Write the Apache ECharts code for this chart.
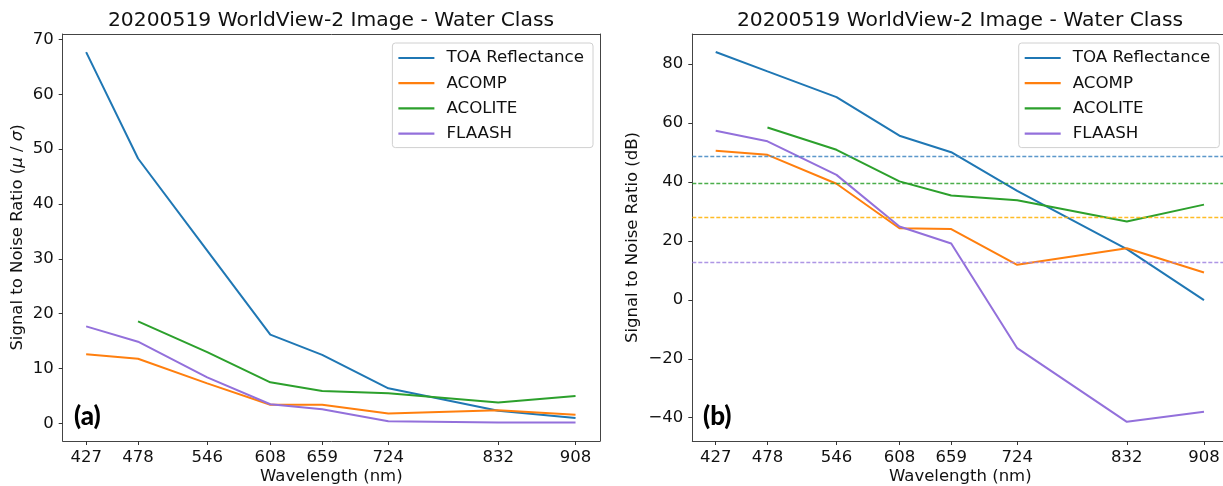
<!DOCTYPE html>
<html>
<head>
<meta charset="utf-8">
<script src="https://cdn.jsdelivr.net/npm/echarts@6/dist/echarts.min.js"></script>
<style>
html,body{margin:0;padding:0;background:#fff;}
#chart{width:1223px;height:486px;}
</style>
</head>
<body>
<div id="chart"></div>
<script>
// ---- data ----
const wavelengths = [427, 478, 546, 608, 659, 724, 832, 908];
const seriesNames = ['TOA Reflectance', 'ACOMP', 'ACOLITE', 'FLAASH'];

// (a) SNR ratio (mu / sigma)
const ratioTOA     = [67.7, 48.3, 31.5, 16.2, 12.5, 6.4, 2.3, 1.0];
const ratioACOMP   = [12.6, 11.8, 7.3, 3.4, 3.4, 1.8, 2.4, 1.6];
const ratioACOLITE = [null, 18.6, 13.0, 7.5, 5.9, 5.5, 3.8, 5.0];
const ratioFLAASH  = [17.7, 14.9, 8.4, 3.5, 2.6, 0.4, 0.15, 0.15];

// (b) SNR in dB
const dbTOA     = [84.1, 77.5, 68.8, 55.7, 50.1, 37.0, 17.2, -0.1];
const dbACOMP   = [50.6, 49.2, 39.4, 24.3, 24.0, 11.9, 17.5, 9.3];
const dbACOLITE = [null, 58.5, 50.9, 40.2, 35.4, 33.8, 26.6, 32.3];
const dbFLAASH  = [57.4, 53.8, 42.4, 24.9, 19.1, -16.4, -41.4, -38.0];

// mean dB reference levels (dashed): TOA, ACOMP, ACOLITE, FLAASH
const dbMeanLevels = [48.7, 27.9, 39.6, 12.7];

const yTicksA = [0, 10, 20, 30, 40, 50, 60, 70];
const yTicksB = [-40, -20, 0, 20, 40, 60, 80];

const titleText = '20200519 WorldView-2 Image - Water Class';

// ---- styles ----
const lineColors = ['#1f77b4', '#ff7f0e', '#2ca02c', '#9370db'];
const dashColors = ['#3f86c2', '#ffb000', '#2ca02c', '#a084e0'];
const FONT = 'DejaVu Sans';
const TXT = '#111';
const SPINE = '#444';

function pairs(vals) {
  const out = [];
  vals.forEach((v, i) => { if (v !== null) out.push([wavelengths[i], v]); });
  return out;
}
const minusFmt = v => (v < 0 ? '\u2212' + Math.abs(v) : String(v));

function xAxisCfg(gridIndex) {
  return {
    type: 'value', gridIndex, min: 403.95, max: 932.05, position: 'bottom',
    name: 'Wavelength (nm)', nameLocation: 'middle', nameGap: 27, nameMoveOverlap: false,
    nameTextStyle: { fontFamily: FONT, fontSize: 16.5, color: TXT },
    axisLine: { show: true, onZero: false, lineStyle: { color: SPINE, width: 1 } },
    axisTick: { show: true, inside: false, length: 4, customValues: wavelengths, lineStyle: { color: '#333', width: 1 } },
    axisLabel: { customValues: wavelengths, margin: 8, fontFamily: FONT, fontSize: 16.5, color: TXT },
    splitLine: { show: false }
  };
}
function topSpine(gridIndex) {
  return {
    type: 'value', gridIndex, min: 403.95, max: 932.05, position: 'top',
    axisLine: { show: true, onZero: false, lineStyle: { color: SPINE, width: 1 } },
    axisTick: { show: false }, axisLabel: { show: false }, splitLine: { show: false }
  };
}
function yAxisCfg(gridIndex, min, max, ticks, name, nameGap) {
  return {
    type: 'value', gridIndex, min, max, position: 'left',
    name, nameLocation: 'middle', nameGap, nameMoveOverlap: false,
    nameTextStyle: { fontFamily: FONT, fontSize: 16.5, color: TXT,
      rich: { i: { fontFamily: FONT, fontSize: 16.5, fontStyle: 'italic', color: TXT } } },
    axisLine: { show: true, onZero: false, lineStyle: { color: SPINE, width: 1 } },
    axisTick: { show: true, inside: false, length: 4, customValues: ticks, lineStyle: { color: '#333', width: 1 } },
    axisLabel: { customValues: ticks, margin: 9, fontFamily: FONT, fontSize: 16.5, color: TXT, formatter: minusFmt },
    splitLine: { show: false }
  };
}
function rightSpine(gridIndex, min, max) {
  return {
    type: 'value', gridIndex, min, max, position: 'right',
    axisLine: { show: true, onZero: false, lineStyle: { color: SPINE, width: 1 } },
    axisTick: { show: false }, axisLabel: { show: false }, splitLine: { show: false }
  };
}

const ratioData = [ratioTOA, ratioACOMP, ratioACOLITE, ratioFLAASH];
const dbData = [dbTOA, dbACOMP, dbACOLITE, dbFLAASH];

const series = [];
ratioData.forEach((vals, k) => {
  series.push({
    type: 'line', name: seriesNames[k], xAxisIndex: 0, yAxisIndex: 0,
    data: pairs(vals), showSymbol: false, symbol: 'none',
    lineStyle: { color: lineColors[k], width: 2 }, itemStyle: { color: lineColors[k] },
    silent: true
  });
});
dbData.forEach((vals, k) => {
  series.push({
    type: 'line', name: seriesNames[k], xAxisIndex: 1, yAxisIndex: 1,
    data: pairs(vals), showSymbol: false, symbol: 'none',
    lineStyle: { color: lineColors[k], width: 2 }, itemStyle: { color: lineColors[k] },
    silent: true
  });
});
// dashed mean levels, one helper series carrying all four markLines
series.push({
  type: 'line', name: 'mean levels', xAxisIndex: 1, yAxisIndex: 1, data: [],
  silent: true, z: 1,
  markLine: {
    silent: true, symbol: ['none', 'none'], label: { show: false }, animation: false,
    data: dbMeanLevels.map((v, k) => ({
      yAxis: v,
      lineStyle: { color: dashColors[k], type: [4, 2], width: 1.3, opacity: 0.85 }
    }))
  }
});

const legendCommon = {
  orient: 'vertical', data: seriesNames, icon: 'rect', itemWidth: 36, itemHeight: 2.2,
  itemGap: 5.2, padding: [5, 9, 4, 6], borderColor: '#d0d0d0', borderWidth: 1, borderRadius: 3,
  backgroundColor: 'rgba(255,255,255,0.8)',
  textStyle: { fontFamily: FONT, fontSize: 16.7, color: TXT, lineHeight: 20, padding: [0, 0, 0, 7] },
  selectedMode: false
};

const option = {
  animation: false,
  backgroundColor: '#fff',
  title: [
    { text: titleText, left: 331, top: 9, textAlign: 'center', padding: 0,
      textStyle: { fontFamily: FONT, fontSize: 20.3, fontWeight: 'normal', color: TXT, lineHeight: 24 } },
    { text: titleText, left: 960, top: 9, textAlign: 'center', padding: 0,
      textStyle: { fontFamily: FONT, fontSize: 20.3, fontWeight: 'normal', color: TXT, lineHeight: 24 } },
    { text: '(a)', left: 74, top: 402, padding: 0,
      textStyle: { fontFamily: 'Lato', fontSize: 26, fontWeight: 900, color: '#000', lineHeight: 30 } },
    { text: '(b)', left: 703, top: 402, padding: 0,
      textStyle: { fontFamily: 'Lato', fontSize: 26, fontWeight: 900, color: '#000', lineHeight: 30 } }
  ],
  grid: [
    { left: 62.7, top: 34, width: 537.3, height: 407, show: false, containLabel: false, outerBoundsMode: 'none' },
    { left: 692.3, top: 34, width: 536.1, height: 407, show: false, containLabel: false, outerBoundsMode: 'none' }
  ],
  xAxis: [xAxisCfg(0), xAxisCfg(1), topSpine(0), topSpine(1)],
  yAxis: [
    yAxisCfg(0, -3.2, 71.0, yTicksA, 'Signal to Noise Ratio ({i|μ} / {i|σ})', 36),
    yAxisCfg(1, -47.9, 90.2, yTicksB, 'Signal to Noise Ratio (dB)', 51),
    rightSpine(0, -3.2, 71.0)
  ],
  legend: [
    Object.assign({}, legendCommon, { right: 630, top: 43 }),
    Object.assign({}, legendCommon, { right: 3.7, top: 43 })
  ],
  series
};

const chart = echarts.init(document.getElementById('chart'), null, { renderer: 'canvas' });
chart.setOption(option);
</script>
</body>
</html>
